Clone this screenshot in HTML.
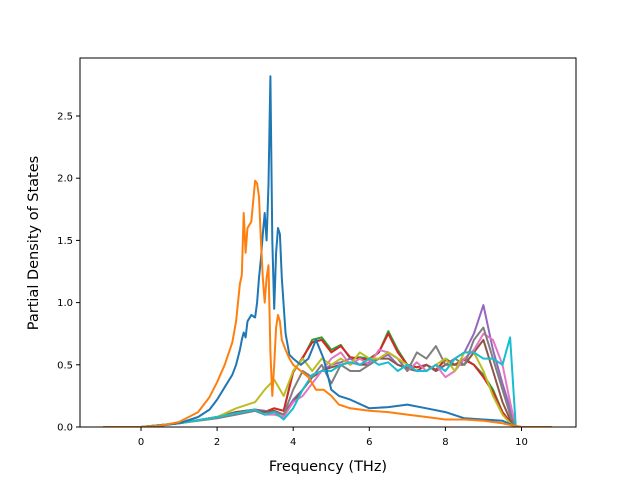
<!DOCTYPE html>
<html><head><meta charset="utf-8"><style>
body{margin:0;background:#fff;font-family:"Liberation Sans",sans-serif}
svg text{font-family:"DejaVu Sans","Liberation Sans",sans-serif}
</style></head><body>
<svg id="c" width="640" height="480" xmlns="http://www.w3.org/2000/svg">
<rect width="640" height="480" fill="#fff"/>
<g id="ax"></g>
</svg>
<script>
const xTicks=[0,2,4,6,8,10];
const yTicks=[0.0,0.5,1.0,1.5,2.0,2.5];
const xLo=[-1,0,0.5,1,1.5,1.8,2,2.2,2.4,2.5,2.6,2.65,2.7,2.75,2.8,2.9,3,3.05,3.1,3.15,3.2,3.25,3.3,3.35,3.4,3.45,3.5,3.55,3.6,3.65,3.7,3.8,3.9,4,4.2,4.4,4.6,4.8,5,5.2,5.5,6,6.5,7,7.5,8,8.5,9,9.5,9.8,10,10.8];
const blueY=[0,0,0.01,0.03,0.08,0.14,0.22,0.32,0.42,0.5,0.62,0.7,0.76,0.72,0.85,0.9,0.88,1.0,1.2,1.35,1.55,1.72,1.5,1.95,2.82,1.5,0.95,1.4,1.6,1.55,1.2,0.75,0.58,0.55,0.5,0.55,0.7,0.55,0.3,0.25,0.22,0.15,0.16,0.18,0.15,0.12,0.07,0.06,0.05,0.01,0,0];
const orangeY=[0,0,0.01,0.04,0.12,0.24,0.36,0.5,0.68,0.85,1.15,1.22,1.72,1.4,1.6,1.65,1.98,1.96,1.85,1.5,1.2,1.0,1.2,1.3,0.6,0.25,0.5,0.8,0.9,0.85,0.7,0.62,0.55,0.5,0.45,0.4,0.3,0.3,0.25,0.18,0.15,0.13,0.12,0.1,0.08,0.06,0.06,0.05,0.03,0.01,0,0];
const xHi=[-1,0,1,2,2.5,3,3.25,3.5,3.75,4,4.25,4.5,4.75,5,5.25,5.5,5.75,6,6.25,6.5,6.75,7,7.25,7.5,7.75,8,8.25,8.5,8.75,9,9.25,9.5,9.7,9.85,10,10.8];
const greenY=[0,0,0.03,0.08,0.12,0.14,0.12,0.15,0.13,0.45,0.55,0.7,0.72,0.62,0.66,0.55,0.56,0.55,0.6,0.77,0.62,0.5,0.48,0.5,0.45,0.55,0.5,0.55,0.5,0.42,0.3,0.12,0.04,0,0,0];
const redY=[0,0,0.03,0.08,0.12,0.14,0.12,0.15,0.13,0.44,0.56,0.68,0.7,0.6,0.65,0.56,0.55,0.54,0.6,0.75,0.6,0.5,0.48,0.5,0.46,0.54,0.5,0.54,0.5,0.4,0.28,0.12,0.04,0,0,0];
const purpleY=[0,0,0.03,0.08,0.12,0.14,0.13,0.12,0.1,0.22,0.3,0.4,0.45,0.5,0.52,0.55,0.5,0.52,0.55,0.58,0.5,0.48,0.45,0.5,0.45,0.5,0.55,0.6,0.75,0.98,0.62,0.35,0.15,0,0,0];
const brownY=[0,0,0.03,0.08,0.12,0.14,0.12,0.13,0.1,0.2,0.3,0.4,0.45,0.48,0.5,0.52,0.5,0.5,0.55,0.55,0.5,0.47,0.45,0.5,0.45,0.5,0.5,0.5,0.6,0.7,0.45,0.2,0.06,0,0,0];
const pinkY=[0,0,0.03,0.08,0.11,0.13,0.1,0.1,0.08,0.2,0.25,0.35,0.45,0.55,0.6,0.5,0.55,0.5,0.62,0.6,0.55,0.45,0.52,0.45,0.5,0.4,0.45,0.55,0.62,0.75,0.7,0.5,0.2,0,0,0];
const grayY=[0,0,0.03,0.07,0.1,0.13,0.1,0.12,0.1,0.3,0.45,0.4,0.5,0.35,0.5,0.45,0.45,0.5,0.55,0.6,0.55,0.45,0.6,0.55,0.65,0.5,0.55,0.5,0.7,0.8,0.55,0.3,0.1,0,0,0];
const oliveY=[0,0,0.03,0.08,0.15,0.2,0.3,0.38,0.25,0.45,0.55,0.45,0.55,0.5,0.55,0.5,0.6,0.55,0.55,0.6,0.55,0.5,0.45,0.45,0.5,0.55,0.45,0.6,0.6,0.45,0.25,0.1,0.03,0,0,0];
const cyanY=[0,0,0.03,0.08,0.11,0.14,0.1,0.12,0.06,0.15,0.3,0.42,0.45,0.45,0.5,0.52,0.5,0.55,0.5,0.52,0.45,0.5,0.45,0.45,0.5,0.45,0.55,0.6,0.6,0.55,0.55,0.5,0.72,0,0,0];
const series=[
 ['green-series',xHi,greenY,'#2ca02c'],['red-series',xHi,redY,'#d62728'],
 ['purple-series',xHi,purpleY,'#9467bd'],['brown-series',xHi,brownY,'#8c564b'],
 ['pink-series',xHi,pinkY,'#e377c2'],['gray-series',xHi,grayY,'#7f7f7f'],
 ['olive-series',xHi,oliveY,'#bcbd22'],['cyan-series',xHi,cyanY,'#17becf'],
 ['blue-series',xLo,blueY,'#1f77b4'],['orange-series',xLo,orangeY,'#ff7f0e']];
const L=80,R=576,T=58,B=427;
const sx=v=>141+v*38.05, sy=v=>427-v*124.4;
const NS='http://www.w3.org/2000/svg';
const g=document.getElementById('ax');
function mk(t,a,p){const e=document.createElementNS(NS,t);for(const k in a)e.setAttribute(k,a[k]);(p||g).appendChild(e);return e;}
const clip=mk('clipPath',{id:'cp'});mk('rect',{x:L,y:T,width:R-L,height:B-T},clip);
const lines=mk('g',{'clip-path':'url(#cp)'});


series.forEach(s=>{
 const d=s[1].map((x,i)=>(i?'L':'M')+sx(x).toFixed(1)+','+sy(s[2][i]).toFixed(1)).join('');
 const p=mk('path',{d:d,fill:'none',stroke:s[3],'stroke-width':2,'stroke-linejoin':'round'},lines);
 
 
});
const fr=mk('rect',{x:L,y:T,width:R-L,height:B-T,fill:'none',stroke:'#000','stroke-width':1});


xTicks.forEach(v=>{const x=sx(v);mk('line',{x1:x,x2:x,y1:B,y2:B+4,stroke:'#000'});
 const t=mk('text',{x:x,y:B+18,'font-size':10,'text-anchor':'middle'});t.textContent=v;
 
 });
yTicks.forEach(v=>{const y=sy(v);mk('line',{x1:L-4,x2:L,y1:y,y2:y,stroke:'#000'});
 const t=mk('text',{x:L-7,y:y+3.5,'font-size':10,'text-anchor':'end'});t.textContent=v.toFixed(1);
 
 });
const xt=mk('text',{x:328,y:471,'font-size':14.5,'text-anchor':'middle'});xt.textContent='Frequency (THz)';


const yt=mk('text',{x:0,y:0,'font-size':14.5,'text-anchor':'middle',transform:'translate(38,243) rotate(-90)'});yt.textContent='Partial Density of States';


</script>
</body></html>
